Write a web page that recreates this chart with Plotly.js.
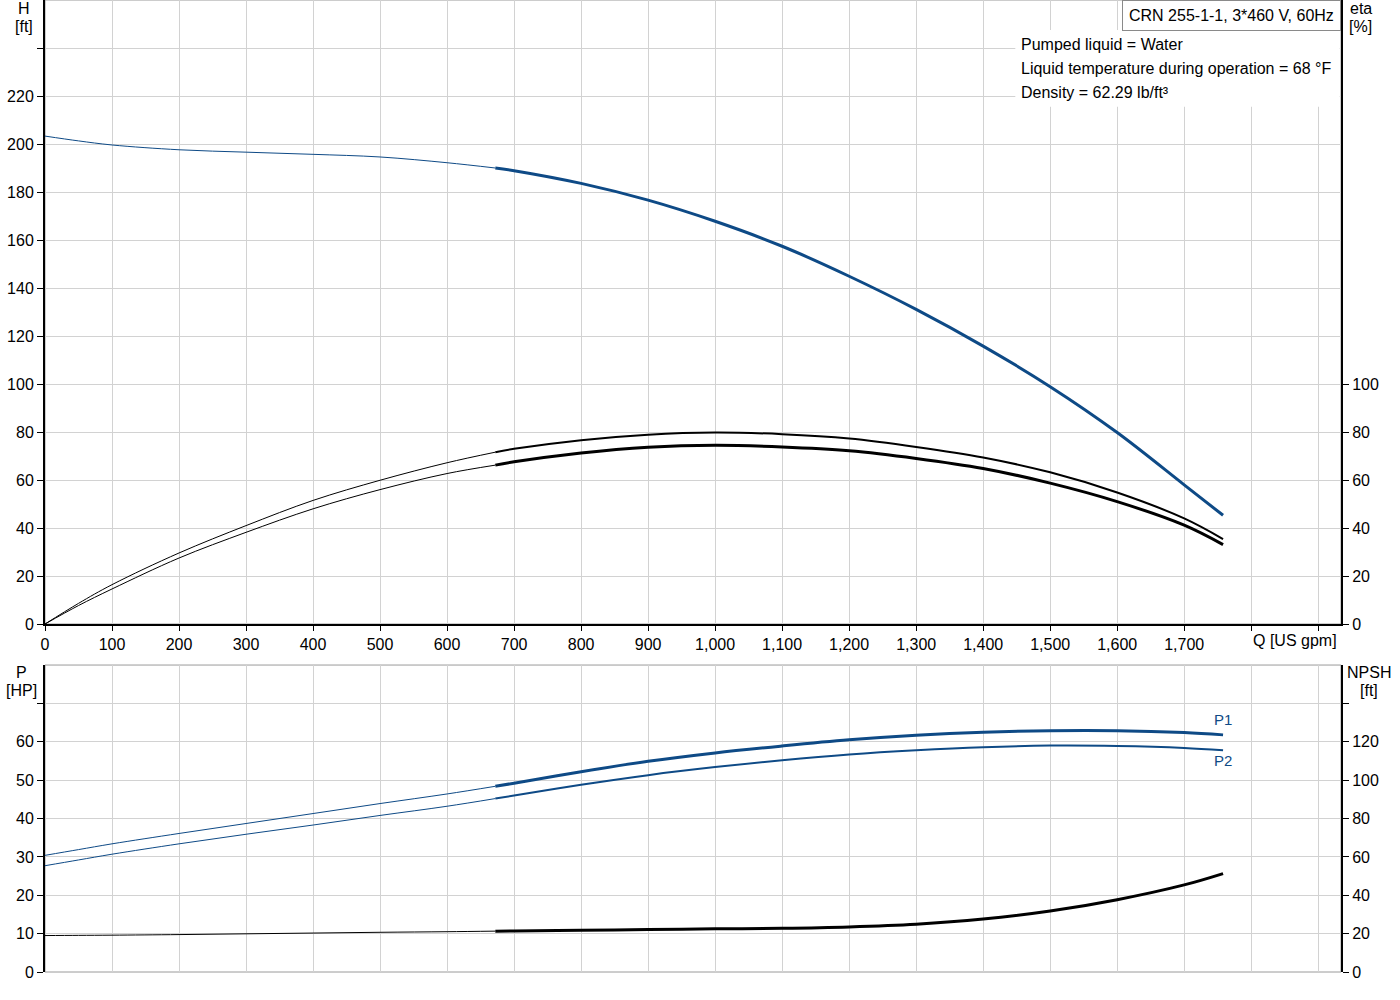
<!DOCTYPE html>
<html>
<head>
<meta charset="utf-8">
<script src="https://cdn.plot.ly/plotly-3.0.1.min.js"></script>
<style>
  html, body { margin: 0; padding: 0; background: #fff; }
  #plot { width: 1400px; height: 1000px; }
</style>
</head>
<body>
<div id="plot"></div>
<script>
// flow points [US gpm]
const Q = [0, 50, 100, 200, 300, 400, 500, 600, 672, 700, 800, 900, 1000, 1100, 1200, 1300, 1400, 1500, 1600, 1700, 1758];
const DUTY_START = 672; // thick part of each curve starts here

const head = [203.3, 201.3, 199.6, 197.6, 196.6, 195.7, 194.6, 192.2, 190.0, 188.9, 183.6, 176.6, 167.8, 157.4, 144.9, 131.1, 115.8, 98.9, 79.8, 58.0, 45.3];
const etaA = [0, 8.6, 16.4, 29.6, 41.0, 51.5, 59.9, 67.2, 71.6, 73.0, 76.6, 78.9, 79.8, 79.1, 77.3, 73.8, 69.4, 63.2, 54.8, 44.0, 35.4];
const etaB = [0, 7.7, 14.6, 27.5, 38.2, 48.0, 56.0, 62.7, 66.2, 67.6, 71.3, 73.7, 74.5, 73.8, 72.2, 69.0, 64.8, 58.7, 51.0, 41.2, 33.1];
const p1 = [30.4, 31.9, 33.4, 36.1, 38.7, 41.3, 43.9, 46.4, 48.4, 49.2, 52.2, 54.9, 57.1, 58.9, 60.5, 61.7, 62.5, 62.9, 62.9, 62.4, 61.8];
const p2 = [27.7, 29.2, 30.7, 33.4, 35.9, 38.3, 40.8, 43.2, 45.2, 46.0, 48.8, 51.3, 53.4, 55.2, 56.7, 57.8, 58.6, 59.0, 58.9, 58.4, 57.8];
const npsh = [19.0, 19.1, 19.2, 19.5, 19.9, 20.3, 20.7, 21.0, 21.3, 21.4, 21.8, 22.1, 22.5, 22.8, 23.5, 24.9, 27.6, 31.8, 37.7, 45.4, 51.3];

// axis ticks
const qTicks = [0, 100, 200, 300, 400, 500, 600, 700, 800, 900, 1000, 1100, 1200, 1300, 1400, 1500, 1600, 1700, 1800, 1900];
const qLabels = ['0', '100', '200', '300', '400', '500', '600', '700', '800', '900', '1,000', '1,100', '1,200', '1,300', '1,400', '1,500', '1,600', '1,700', '', ''];
const qTitle = 'Q [US gpm]';
const qTitleAt = 1800;
const hTicks = [0, 20, 40, 60, 80, 100, 120, 140, 160, 180, 200, 220, 240];
const hLabels = ['0', '20', '40', '60', '80', '100', '120', '140', '160', '180', '200', '220', ''];
const etaTicks = [0, 20, 40, 60, 80, 100];
const pTicks = [0, 10, 20, 30, 40, 50, 60, 70];
const pLabels = ['0', '10', '20', '30', '40', '50', '60', ''];
const npshTicks = [0, 20, 40, 60, 80, 100, 120, 140];
const npshLabels = ['0', '20', '40', '60', '80', '100', '120', ''];

// axis names: [name, unit]
const hName = ['H', '[ft]'];
const etaName = ['eta', '[%]'];
const pName = ['P', '[HP]'];
const npshName = ['NPSH', '[ft]'];

const infoLines = ['Pumped liquid = Water', 'Liquid temperature during operation = 68 °F', 'Density = 62.29 lb/ft³'];
const pumpName = 'CRN 255-1-1, 3*460 V, 60Hz';

const BLUE = '#0e4a86';
const FONT = 'Liberation Sans, Arial, sans-serif';

function part(vals, thick) {
  const xs = [], ys = [];
  Q.forEach((q, i) => {
    if (thick ? q >= DUTY_START : q <= DUTY_START) { xs.push(q); ys.push(vals[i]); }
  });
  return { x: xs, y: ys };
}

function curve(vals, color, thinW, thickW, xa, ya) {
  const a = part(vals, false), b = part(vals, true);
  return [
    { x: a.x, y: a.y, xaxis: xa, yaxis: ya, mode: 'lines', type: 'scatter',
      line: { color: color, width: thinW, shape: 'spline', smoothing: 1 }, hoverinfo: 'skip' },
    { x: b.x, y: b.y, xaxis: xa, yaxis: ya, mode: 'lines', type: 'scatter',
      line: { color: color, width: thickW, shape: 'spline', smoothing: 1 }, hoverinfo: 'skip' },
  ];
}

const data = [].concat(
  curve(head, BLUE, 1, 3, 'x', 'y'),
  curve(etaA, '#000', 1, 2, 'x', 'y2'),
  curve(etaB, '#000', 1, 3, 'x', 'y2'),
  curve(p1, BLUE, 1, 3, 'x2', 'y3'),
  curve(p2, BLUE, 1, 2, 'x2', 'y3'),
  curve(npsh, '#000', 1, 3, 'x2', 'y4')
);

const GRID = '#d2d2d2';
const tickFont = { family: FONT, size: 16, color: '#000' };

const yAxisBase = {
  ticks: 'outside', ticklen: 6, tickcolor: '#000', tickwidth: 1,
  showline: true, linecolor: '#000', linewidth: 2,
  gridcolor: GRID, gridwidth: 1, zeroline: false,
  tickfont: tickFont, tickmode: 'array', fixedrange: true,
};

// two-line axis name, each line its own annotation
function axisName(lines, x, yTop) {
  return lines.map((t, i) => ({
    text: t, xref: 'paper', yref: 'paper', x: x, y: yTop - i * 0.0185,
    xanchor: 'center', yanchor: 'middle', showarrow: false, font: { size: 16 },
  }));
}

const layout = {
  width: 1400,
  height: 1000,
  showlegend: false,
  paper_bgcolor: '#fff',
  plot_bgcolor: '#fff',
  margin: { l: 45, r: 59, t: 0, b: 28 },
  font: { family: FONT, size: 16, color: '#000' },
  xaxis: {
    domain: [0, 1], anchor: 'y', range: [0, 1934],
    tickmode: 'array', tickvals: qTicks, ticktext: qLabels,
    ticks: 'outside', ticklen: 5, tickcolor: '#000',
    showline: true, linecolor: '#000', linewidth: 2,
    gridcolor: GRID, zeroline: false, tickfont: tickFont, fixedrange: true,
  },
  yaxis: Object.assign({}, yAxisBase, {
    domain: [0.358, 1], anchor: 'x', range: [0, 260],
    tickvals: hTicks, ticktext: hLabels,
  }),
  yaxis2: Object.assign({}, yAxisBase, {
    overlaying: 'y', side: 'right', anchor: 'x', range: [0, 260],
    tickvals: etaTicks, showgrid: false,
  }),
  xaxis2: {
    domain: [0, 1], anchor: 'y3', range: [0, 1934], matches: 'x',
    tickmode: 'array', tickvals: qTicks, showticklabels: false, ticks: '',
    showline: false, gridcolor: GRID, zeroline: false, fixedrange: true,
  },
  yaxis3: Object.assign({}, yAxisBase, {
    domain: [0, 0.3158], anchor: 'x2', range: [0, 80],
    tickvals: pTicks, ticktext: pLabels,
  }),
  yaxis4: Object.assign({}, yAxisBase, {
    overlaying: 'y3', side: 'right', anchor: 'x2', range: [0, 160],
    tickvals: npshTicks, ticktext: npshLabels, showgrid: false,
  }),
  shapes: [
    // gray frames
    { type: 'rect', xref: 'x domain', yref: 'y domain', x0: 0, x1: 1, y0: 0, y1: 1,
      line: { color: '#9a9a9a', width: 1 }, layer: 'below' },
    { type: 'rect', xref: 'x2 domain', yref: 'y3 domain', x0: 0, x1: 1, y0: 0, y1: 1,
      line: { color: '#9a9a9a', width: 1 }, layer: 'below' },
    // white panel behind the info text
    { type: 'rect', xref: 'x', yref: 'y', x0: 1448, x1: 1932, y0: 215.5, y1: 247.5,
      fillcolor: '#fff', line: { width: 0 }, layer: 'between' },
  ],
  annotations: [].concat(
    axisName(hName, -0.0162, 0.9915),
    axisName(etaName, 1.0154, 0.9915),
    axisName(pName, -0.0178, 0.3086),
    axisName(npshName, 1.0216, 0.3086),
    [
      { text: qTitle, xref: 'x', yref: 'y domain', x: qTitleAt, y: 0, yshift: -6,
        xanchor: 'left', yanchor: 'top', showarrow: false, font: { size: 16 } },
      { text: pumpName, xref: 'paper', yref: 'paper', x: 1, y: 1,
        xanchor: 'right', yanchor: 'top', showarrow: false, font: { size: 16 },
        bgcolor: '#fff', bordercolor: '#8a8a8a', borderwidth: 1, borderpad: 6 },
      { text: infoLines[0], xref: 'paper', yref: 'paper', x: 0.7515, y: 0.9547,
        xanchor: 'left', yanchor: 'middle', showarrow: false, font: { size: 16 } },
      { text: infoLines[1], xref: 'paper', yref: 'paper', x: 0.7515, y: 0.9300,
        xanchor: 'left', yanchor: 'middle', showarrow: false, font: { size: 16 } },
      { text: infoLines[2], xref: 'paper', yref: 'paper', x: 0.7515, y: 0.9053,
        xanchor: 'left', yanchor: 'middle', showarrow: false, font: { size: 16 } },
      { text: 'P1', xref: 'x2', yref: 'y3', x: Q[Q.length - 1], y: p1[p1.length - 1],
        yshift: 15, xanchor: 'center', showarrow: false, font: { size: 15, color: BLUE } },
      { text: 'P2', xref: 'x2', yref: 'y3', x: Q[Q.length - 1], y: p2[p2.length - 1],
        yshift: -10, xanchor: 'center', showarrow: false, font: { size: 15, color: BLUE } },
    ]
  ),
};

const config = { staticPlot: true, displayModeBar: false };

Plotly.newPlot('plot', data, layout, config);
</script>
</body>
</html>
